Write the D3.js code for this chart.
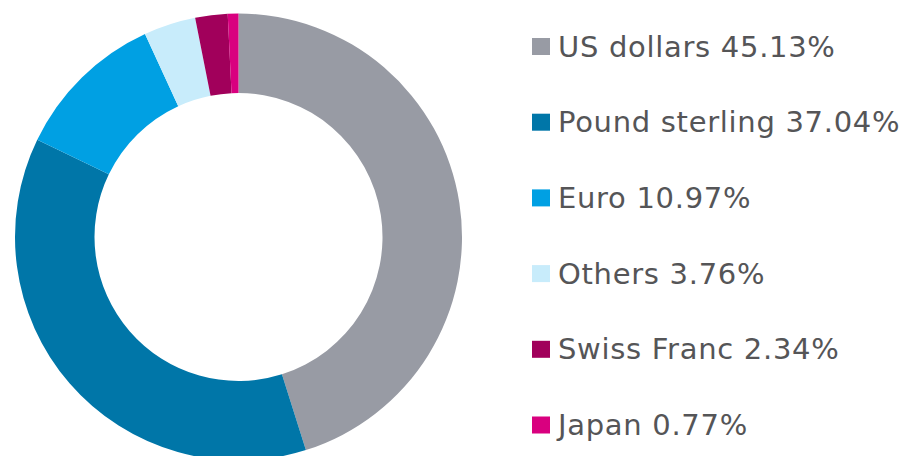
<!DOCTYPE html>
<html><head><meta charset="utf-8">
<script src="https://cdn.jsdelivr.net/npm/d3@7/dist/d3.min.js"></script>
<style>body{margin:0;background:#fff}svg{display:block}</style>
</head><body>
<svg id="c" width="920" height="456"></svg>
<script>
const categories = ["US dollars", "Pound sterling", "Euro", "Others", "Swiss Franc", "Japan"];
const values = [45.13, 37.04, 10.97, 3.76, 2.34, 0.77];
const labels = ["US dollars 45.13%", "Pound sterling 37.04%", "Euro 10.97%", "Others 3.76%", "Swiss Franc 2.34%", "Japan 0.77%"];
const colors = ["#989ba4", "#0076a8", "#00a0e3", "#c8ecfb", "#a1005b", "#d9007f"];

const svg = d3.select("#c");
const cx = 238.5, cy = 237, R = 223.5, r = 144;
const pie = d3.pie().sort(null).value(d => d.v);
const data = categories.map((c, i) => ({c, v: values[i], col: colors[i]}));
const arc = d3.arc().innerRadius(r).outerRadius(R);
svg.append("g").attr("transform", `translate(${cx},${cy})`)
  .selectAll("path").data(pie(data)).join("path")
  .attr("d", arc).attr("fill", d => d.data.col);

const y = d3.scaleLinear().domain([0, 5]).range([46.5, 425]);
const lg = svg.append("g");
labels.forEach((t, i) => {
  lg.append("rect").attr("x", 532).attr("y", y(i) - 8.5).attr("width", 18).attr("height", 17).attr("fill", colors[i]);
  lg.append("text").attr("x", 558).attr("y", y(i) + 10)
    .attr("font-family", "'DejaVu Sans', sans-serif").attr("font-size", 29)
    .attr("letter-spacing", 0.7)
    .attr("fill", "#555557").text(t);
});
</script>
</body></html>
